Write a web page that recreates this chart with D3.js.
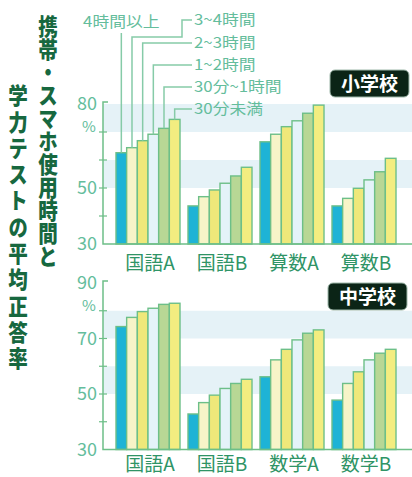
<!DOCTYPE html>
<html>
<head>
<meta charset="utf-8">
<script src="https://cdn.jsdelivr.net/npm/d3@7"></script>
<style>
  body { margin: 0; background: #fff; }
  svg { display: block; font-family: "Noto Sans CJK JP", "Noto Sans", sans-serif; }
</style>
</head>
<body>
<svg id="chart" width="412" height="477"></svg>
<script>
// data
var catsElem   = ["国語A", "国語B", "算数A", "算数B"];
var catsJunior = ["国語A", "国語B", "数学A", "数学B"];
var series = ["4時間以上", "3~4時間", "2~3時間", "1~2時間", "30分~1時間", "30分未満"];

// one row per category, one value per series (%)
var elemValues = [
        [62.6, 64.4, 66.9, 69.2, 71.3, 74.5],
        [43.6, 46.9, 49.3, 51.7, 54.3, 57.4],
        [66.5, 69.2, 71.9, 74.0, 76.7, 79.6],
        [43.6, 46.3, 49.9, 52.9, 55.8, 60.6]
];
var juniorValues = [
        [74.3, 77.6, 79.7, 80.9, 82.3, 82.7],
        [42.8, 46.9, 49.6, 52.0, 53.8, 55.3],
        [56.2, 62.3, 66.1, 69.5, 71.9, 73.1],
        [47.8, 53.8, 58.0, 62.3, 64.7, 66.1]
];
var elemTicks   = [30, 40, 50, 60, 70, 80];
var elemLabels  = [30, 50, 80];
var juniorTicks  = [30, 40, 50, 60, 70, 80, 90];
var juniorLabels = [30, 50, 70, 90];

var titleRight = "携帯・スマホ使用時間と";
var titleLeft  = "学力テストの平均正答率";

var barColors = ["#1eb3d6", "#f7f4c8", "#efe87a", "#e4f3f9", "#b8d795", "#f3ed80"];
var green = "#6dbf88";
var teal  = "#64bd9c";

var svg = d3.select("#chart");

function drawPanel(opt)
{
        var g = svg.append("g");
        var y = d3.scaleLinear().domain(opt.domain).range(opt.range);
        var x = d3.scaleBand().domain(opt.cats).range([112, 400])
                .paddingInner(0.111).paddingOuter(0.0555);
        var xi = d3.scaleBand().domain(d3.range(series.length)).range([0, x.bandwidth()]);

        // light bands behind the bars
        [[50, 60], [70, 80]].forEach(function(b) {
                g.append("rect")
                        .attr("x", 103).attr("width", 309)
                        .attr("y", y(b[1])).attr("height", y(b[0]) - y(b[1]))
                        .attr("fill", "#e5f2f7");
        });

        // bars
        var grp = g.selectAll(".grp")
                .data(opt.values)
                .enter().append("g")
                .attr("transform", function(d, i) { return "translate(" + x(opt.cats[i]) + ",0)"; });

        grp.selectAll("rect")
                .data(function(d) { return d; })
                .enter().append("rect")
                .attr("x", function(d, i) { return xi(i); })
                .attr("width", xi.bandwidth())
                .attr("y", function(d) { return y(d); })
                .attr("height", function(d) { return y(opt.domain[0]) - y(d); })
                .attr("fill", function(d, i) { return barColors[i]; })
                .attr("stroke", green)
                .attr("stroke-width", 1.4);

        // axis
        var y0 = y(opt.domain[0]);
        var yTop = y(opt.domain[1]) - 2;
        g.append("path")
                .attr("d", "M108," + yTop + "H103V" + y0 + "H412")
                .attr("fill", "none").attr("stroke", green).attr("stroke-width", 1.5);

        g.selectAll(".tick")
                .data(opt.ticks.slice(1, -1))
                .enter().append("line")
                .attr("x1", 99).attr("x2", 107)
                .attr("y1", function(d) { return y(d); })
                .attr("y2", function(d) { return y(d); })
                .attr("stroke", green).attr("stroke-width", 1.2);

        g.selectAll(".lab")
                .data(opt.labels)
                .enter().append("text")
                .attr("x", 97)
                .attr("y", function(d) { return y(d); })
                .attr("dy", "0.36em")
                .attr("text-anchor", "end")
                .attr("font-size", 18)
                .attr("fill", teal)
                .text(function(d) { return d; });

        g.append("text")
                .attr("x", 89).attr("y", y(opt.domain[1]) + 23)
                .attr("dy", "0.36em")
                .attr("text-anchor", "middle")
                .attr("font-size", 15)
                .attr("fill", teal)
                .text("%");

        // category labels
        g.selectAll(".cat")
                .data(opt.cats)
                .enter().append("text")
                .attr("x", function(d) { return x(d) + x.bandwidth() / 2 + 2; })
                .attr("y", y0 + opt.catDy)
                .attr("dy", "0.36em")
                .attr("text-anchor", "middle")
                .attr("font-size", 19)
                .attr("fill", "#2f9466")
                .text(function(d) { return d; });

        // badge
        g.append("rect")
                .attr("x", opt.badge[0]).attr("y", opt.badge[1])
                .attr("width", 79).attr("height", 27).attr("rx", 5)
                .attr("fill", "#0b2416").attr("stroke", "#9fb8aa").attr("stroke-width", 1);
        g.append("text")
                .attr("x", opt.badge[0] + 39.5).attr("y", opt.badge[1] + 14)
                .attr("dy", "0.36em")
                .attr("text-anchor", "middle")
                .attr("font-size", 19).attr("font-weight", "bold")
                .attr("fill", "#fff")
                .text(opt.badgeText);

        return { x: x, xi: xi, y: y };
}

var topPanel = drawPanel({
        cats: catsElem, values: elemValues,
        domain: [30, 80], range: [244, 104],
        ticks: elemTicks, labels: elemLabels, catDy: 19,
        badge: [330, 70], badgeText: "小学校"
});

drawPanel({
        cats: catsJunior, values: juniorValues,
        domain: [30, 90], range: [449.5, 283],
        ticks: juniorTicks, labels: juniorLabels, catDy: 15,
        badge: [328, 283], badgeText: "中学校"
});

// legend leaders from the first group of the top panel
var labelY = [22, 20, 43, 65, 87, 109];
var line = d3.line();
var leg = svg.append("g");

elemValues[0].forEach(function(v, i) {
        var cx = topPanel.x(catsElem[0]) + topPanel.xi(i) + topPanel.xi.bandwidth() / 2;
        var ty = topPanel.y(v);
        var pts;
        if (i === 0) {
                pts = [[cx, ty], [cx, 33]];
        } else if (i === 1) {
                pts = [[cx, ty], [cx, 37], [182, 37], [182, 20], [192, 20]];
        } else {
                pts = [[cx, ty], [cx, labelY[i]], [192, labelY[i]]];
        }
        leg.append("path")
                .attr("d", line(pts))
                .attr("fill", "none")
                .attr("stroke", "#86cba8")
                .attr("stroke-width", 1.5);

        leg.append("text")
                .attr("transform", "translate(" + (i === 0 ? cx : 194) + "," + labelY[i] + ") scale(1.12,1)")
                .attr("dy", "0.36em")
                .attr("text-anchor", i === 0 ? "middle" : "start")
                .attr("font-size", 15)
                .attr("fill", teal)
                .text(series[i]);
});

// vertical title, right column first
function column(str, cx, y0, spacing)
{
        svg.append("text")
                .attr("transform", "translate(" + cx + "," + y0 + ") scale(0.85,1)")
                .style("writing-mode", "vertical-rl")
                .attr("letter-spacing", spacing)
                .attr("font-size", 23)
                .attr("font-weight", "900")
                .attr("fill", "#17683f")
                .text(str);
}
column(titleRight, 48, 15, 0);
column(titleLeft, 18, 84, 3.3);
</script>
</body>
</html>
